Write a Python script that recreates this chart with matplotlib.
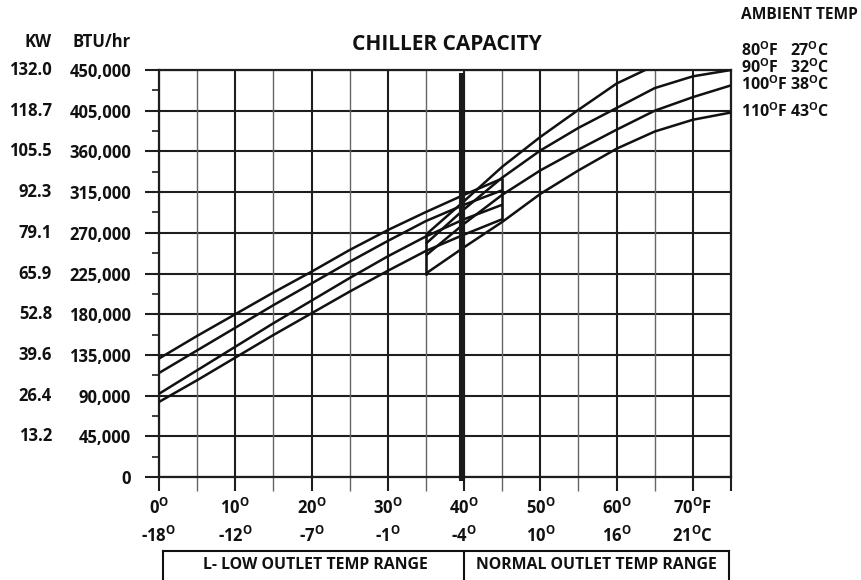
import matplotlib
matplotlib.use("Agg")
import matplotlib.pyplot as plt
from matplotlib.transforms import blended_transform_factory
from matplotlib.lines import Line2D

plt.rcParams['font.family'] = ['Open Sans', 'DejaVu Sans']
plt.rcParams['font.weight'] = 'bold'
plt.rcParams['mathtext.fontset'] = 'custom'
plt.rcParams['mathtext.rm'] = 'Open Sans'
plt.rcParams['mathtext.default'] = 'rm'

# ---------------- data ----------------
btu_ticks = [0, 45000, 90000, 135000, 180000, 225000, 270000, 315000, 360000, 405000, 450000]
btu_labels = ["0", "45,000", "90,000", "135,000", "180,000", "225,000", "270,000",
              "315,000", "360,000", "405,000", "450,000"]
kw_labels = ["", "13.2", "26.4", "39.6", "52.8", "65.9", "79.1", "92.3", "105.5", "118.7", "132.0"]

f_ticks = [0, 10, 20, 30, 40, 50, 60, 70]
f_labels = ["0°", "10°", "20°", "30°", "40°", "50°", "60°", "70°F"]
c_labels = ["-18°", "-12°", "-7°", "-1°", "-4°", "10°", "16°", "21°C"]

ambient_f = ["80°F", "90°F", "100°F", "110°F"]
ambient_c = ["27°C", "32°C", "38°C", "43°C"]

# low outlet temp range curves (°F, BTU/hr)
low_x = [0, 5, 10, 15, 20, 25, 30, 35, 40, 45]
low_80 = [131000, 156000, 180000, 204000, 227000, 251000, 273000, 293000, 312000, 330000]
low_90 = [115000, 140000, 165000, 190000, 214000, 238000, 261000, 283000, 301000, 317000]
low_100 = [92000, 118000, 144000, 170000, 195000, 220000, 244000, 266000, 285000, 301000]
low_110 = [83000, 107000, 132000, 157000, 181000, 205000, 228000, 250000, 268000, 285000]

# normal outlet temp range curves
norm_x = [35, 40, 45, 50, 55, 60, 65, 70, 75]
norm_80 = [268000, 305000, 343000, 376000, 406000, 435000, 455000]
norm_90 = [258000, 296000, 331000, 361000, 386000, 408000, 430000, 443000, 450000]
norm_100 = [245000, 280000, 312000, 339000, 362000, 384000, 405000, 420000, 433000]
norm_110 = [225000, 254000, 282000, 313000, 339000, 363000, 382000, 395000, 403000]

divider_f = 39.7


def deg(s):
    # render the degree sign as a superscript ring like the reference
    return s.replace("°", r"$^{\mathrm{O}}$")


# ---------------- figure ----------------
W, H = 861, 580
fig = plt.figure(figsize=(W / 100, H / 100), dpi=100)
fig.patch.set_facecolor("white")


def fx(px):
    return px / W


def fy(py):
    return 1 - py / H


ax = fig.add_axes([fx(159), fy(477), fx(731) - fx(159), fy(70) - fy(477)])
ax.set_xlim(0, 75)
ax.set_ylim(0, 450000)

dark = "#1e1e1e"
txt = "#111111"
FS = 12
for s in ax.spines.values():
    s.set_color(dark)
    s.set_linewidth(1.6)

# grid
for v in btu_ticks:
    ax.axhline(v, color=dark, lw=1.5, zorder=1)
for v in f_ticks + [75]:
    ax.axvline(v, color=dark, lw=1.5, zorder=1)
for v in [5, 15, 25, 35, 45, 55, 65]:
    ax.axvline(v, color="#666666", lw=1.0, zorder=1)

# ticks
ax.set_yticks(btu_ticks)
ax.set_yticklabels(btu_labels)
ax.set_yticks([v + 22500 for v in btu_ticks[:-1]], minor=True)
ax.set_xticks(f_ticks + [75])
ax.set_xticklabels([deg(l) for l in f_labels] + [""])
ax.set_xticks([5, 15, 25, 35, 45, 55, 65], minor=True)
ax.tick_params(axis="y", which="major", length=10, width=1.5, color=dark, pad=10, labelsize=FS)
ax.tick_params(axis="y", which="minor", length=5, width=1.2, color=dark)
ax.tick_params(axis="x", which="major", length=10, width=1.5, color=dark, pad=5, labelsize=FS)
ax.tick_params(axis="x", which="minor", length=10, width=1.0, color="#666666")
for lab in ax.get_xticklabels() + ax.get_yticklabels():
    lab.set_fontweight("bold")
    lab.set_color(txt)

# KW column
tr_y = blended_transform_factory(fig.transFigure, ax.transData)
for v, k in zip(btu_ticks, kw_labels):
    ax.text(fx(52), v, k, transform=tr_y, ha="right", va="center",
            fontsize=FS, fontweight="bold", color=txt)

# Celsius row
tr_x = blended_transform_factory(ax.transData, fig.transFigure)
for v, c in zip(f_ticks, c_labels):
    ax.text(v, fy(536), deg(c), transform=tr_x, ha="center", va="center",
            fontsize=FS, fontweight="bold", color=txt)

# curves
lw = 1.8
for ys in [low_80, low_90, low_100, low_110]:
    ax.plot(low_x, ys, color=txt, lw=lw, zorder=3, solid_capstyle="butt")
for ys in [norm_80, norm_90, norm_100, norm_110]:
    ax.plot(norm_x[:len(ys)], ys, color=txt, lw=lw, zorder=3, solid_capstyle="butt")
# end connectors
ax.plot([low_x[-1], low_x[-1]], [low_110[-1], low_80[-1]], color=txt, lw=lw, zorder=3)
ax.plot([norm_x[0], norm_x[0]], [norm_110[0], norm_80[0]], color=txt, lw=lw, zorder=3)

# thick divider
ax.plot([divider_f, divider_f], [-4500, 447000], color="#1a1a1a", lw=4.4,
        zorder=4, clip_on=False, solid_capstyle="butt")

# headers
fig.text(fx(52), fy(42), "KW", ha="right", va="center", fontsize=FS, fontweight="bold", color=txt)
fig.text(fx(131), fy(42), "BTU/hr", ha="right", va="center", fontsize=FS, fontweight="bold", color=txt)
fig.text(fx(447), fy(44), "CHILLER CAPACITY", ha="center", va="center", fontsize=15, fontweight="bold", color=txt)

# ambient legend
fig.text(fx(741), fy(15), "AMBIENT TEMP", ha="left", va="center", fontsize=11.2, fontweight="bold", color=txt)
for i, (a, b) in enumerate(zip(ambient_f, ambient_c)):
    yy = [51, 68, 85, 112][i]
    fig.text(fx(741), fy(yy), deg(a), ha="left", va="center", fontsize=11.5, fontweight="bold", color=txt)
    fig.text(fx(829), fy(yy), deg(b), ha="right", va="center", fontsize=11.5, fontweight="bold", color=txt)

# bottom range boxes
bl = dict(color=txt, lw=1.5, transform=fig.transFigure)
fig.add_artist(Line2D([fx(163), fx(729)], [fy(551), fy(551)], **bl))
for xp in [163, 463.5, 729]:
    fig.add_artist(Line2D([fx(xp), fx(xp)], [fy(551), fy(582)], **bl))
fig.text(fx(315), fy(565), "L- LOW OUTLET TEMP RANGE", ha="center", va="center",
         fontsize=11.4, fontweight="bold", color=txt)
fig.text(fx(596), fy(565), "NORMAL OUTLET TEMP RANGE", ha="center", va="center",
         fontsize=11.4, fontweight="bold", color=txt)

fig.savefig("out.png", dpi=100, facecolor="white")
